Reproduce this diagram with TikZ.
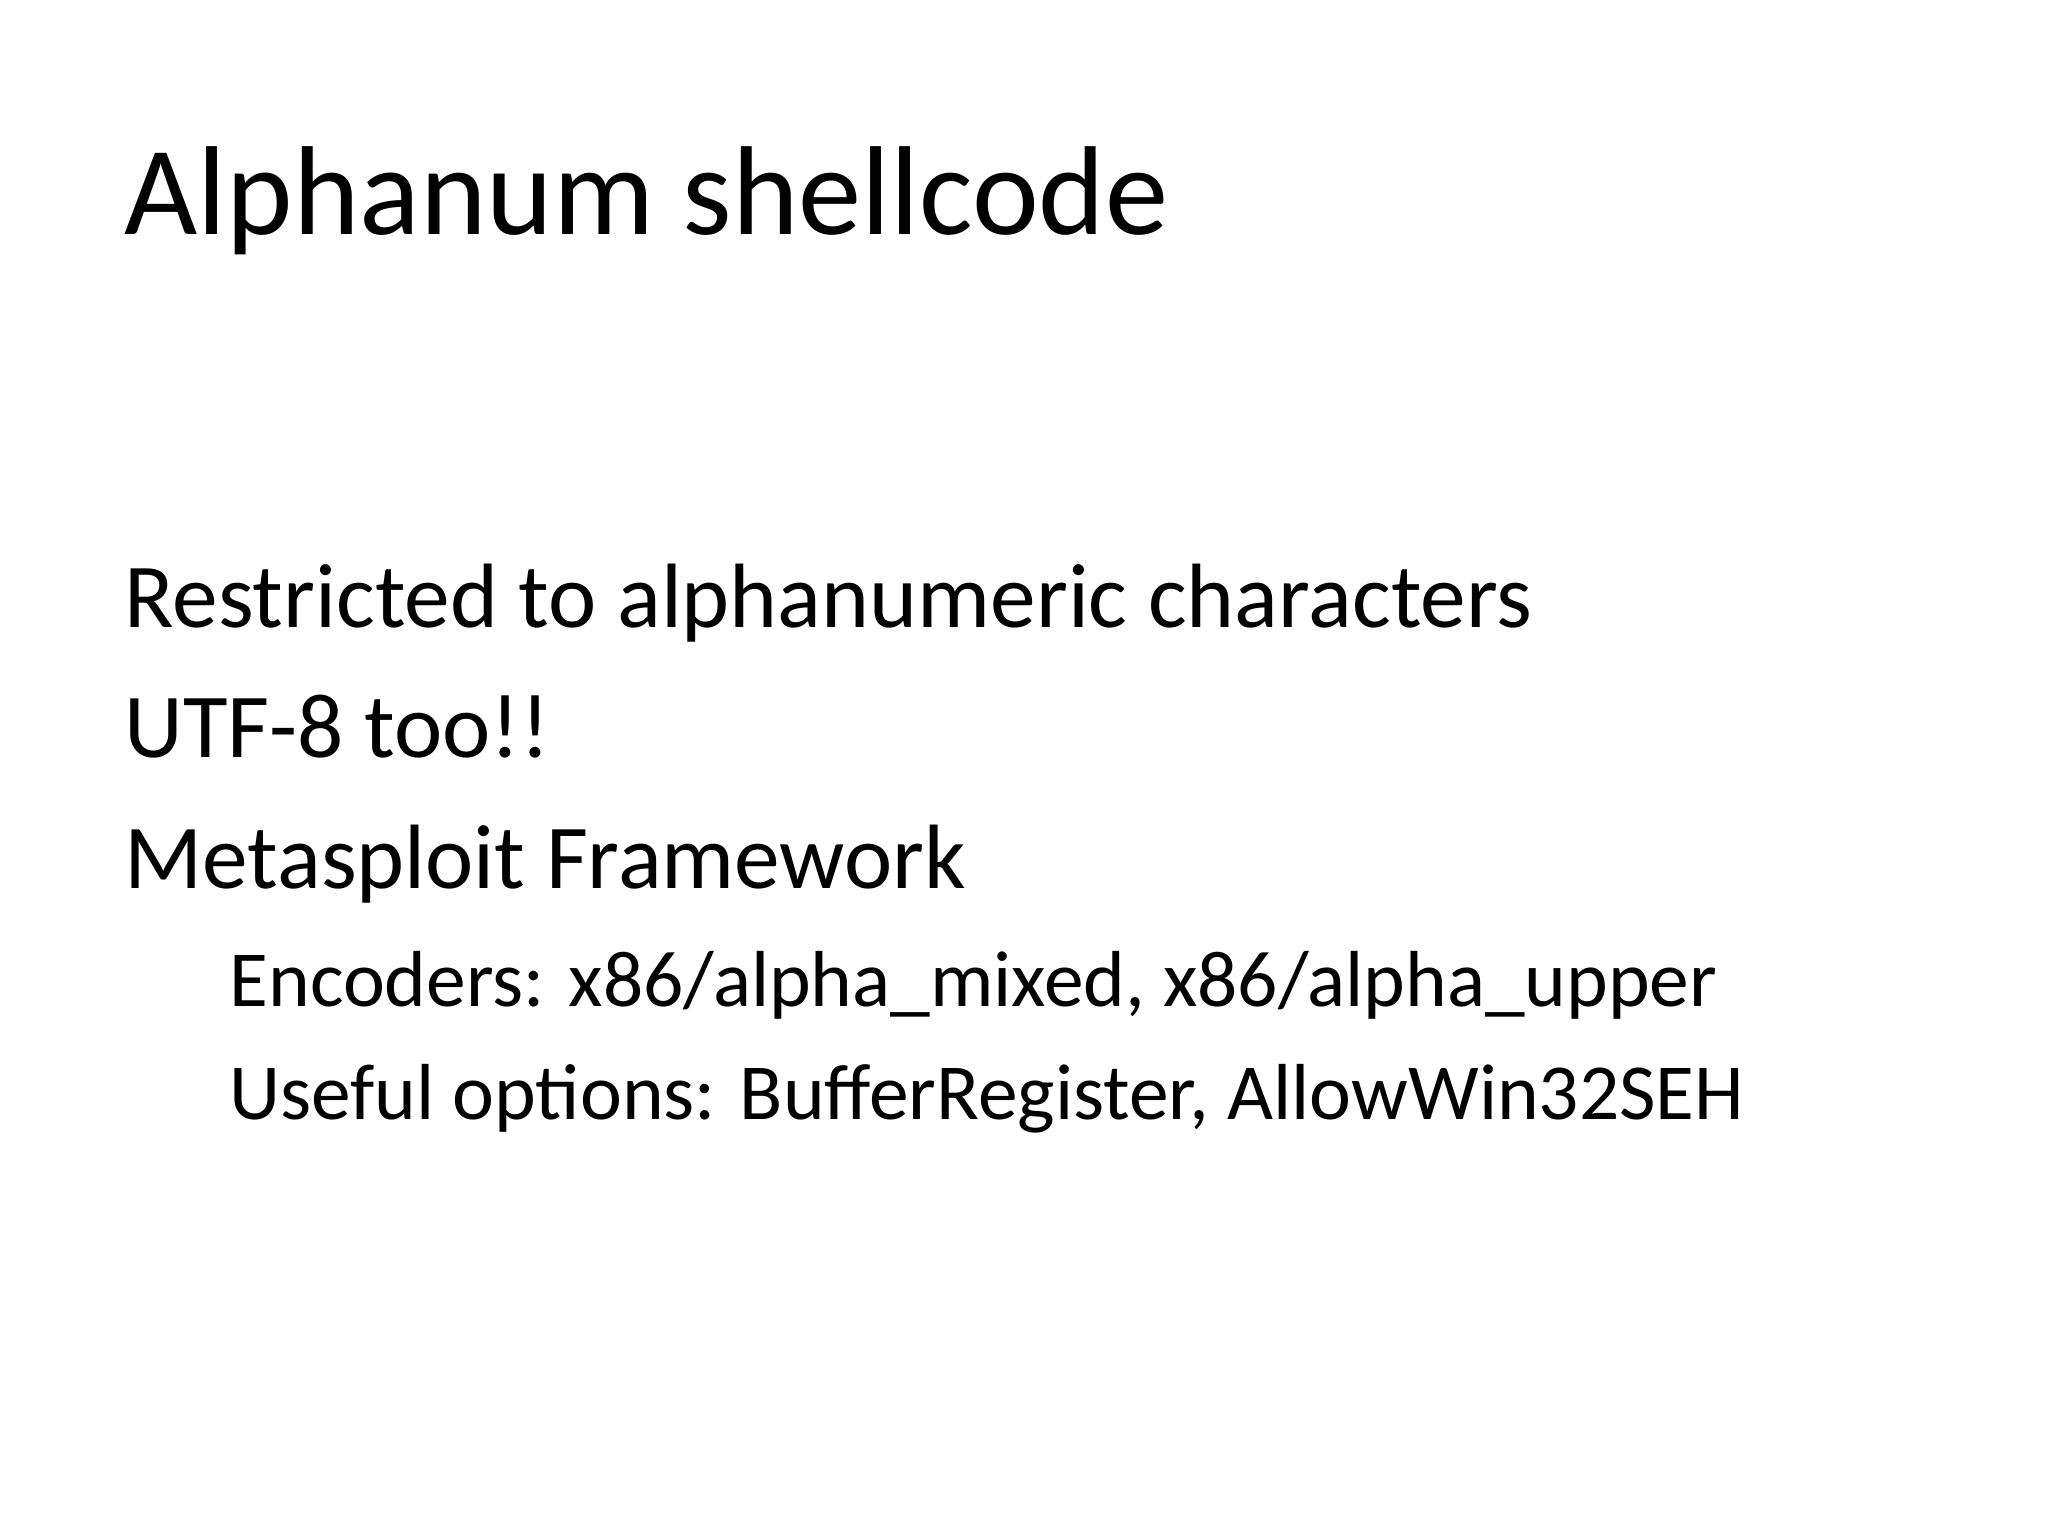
\documentclass[tikz,border=0pt]{standalone}
\usepackage{fontspec}
\setmainfont{Carlito}
\begin{document}
\begin{tikzpicture}
\tikzset{title/.style={anchor=base west,inner sep=0pt,font=\fontsize{36}{40}\selectfont},
 lvlone/.style={anchor=base west,inner sep=0pt,font=\fontsize{26}{30}\selectfont},
 lvltwo/.style={anchor=base west,inner sep=0pt,font=\fontsize{22.6}{26}\selectfont}}
\useasboundingbox[fill=white] (0,0) rectangle (20.48,-15.36);
\node[title] (t) at (1.24,-2.35) {Alphanum shellcode};
\node[lvlone] (a) at (1.24,-6.27) {Restricted to alphanumeric characters};
\node[lvlone] (b) at (1.24,-7.57) {UTF-8 too!!};
\node[lvlone] (c) at (1.24,-8.88) {Metasploit Framework};
\node[lvltwo] (d) at (2.29,-10.06) {Encoders: x86/alpha\_mixed, x86/alpha\_upper};
\node[lvltwo] (e) at (2.29,-11.19) {Useful options: BufferRegister, AllowWin32SEH};
\end{tikzpicture}
\end{document}
